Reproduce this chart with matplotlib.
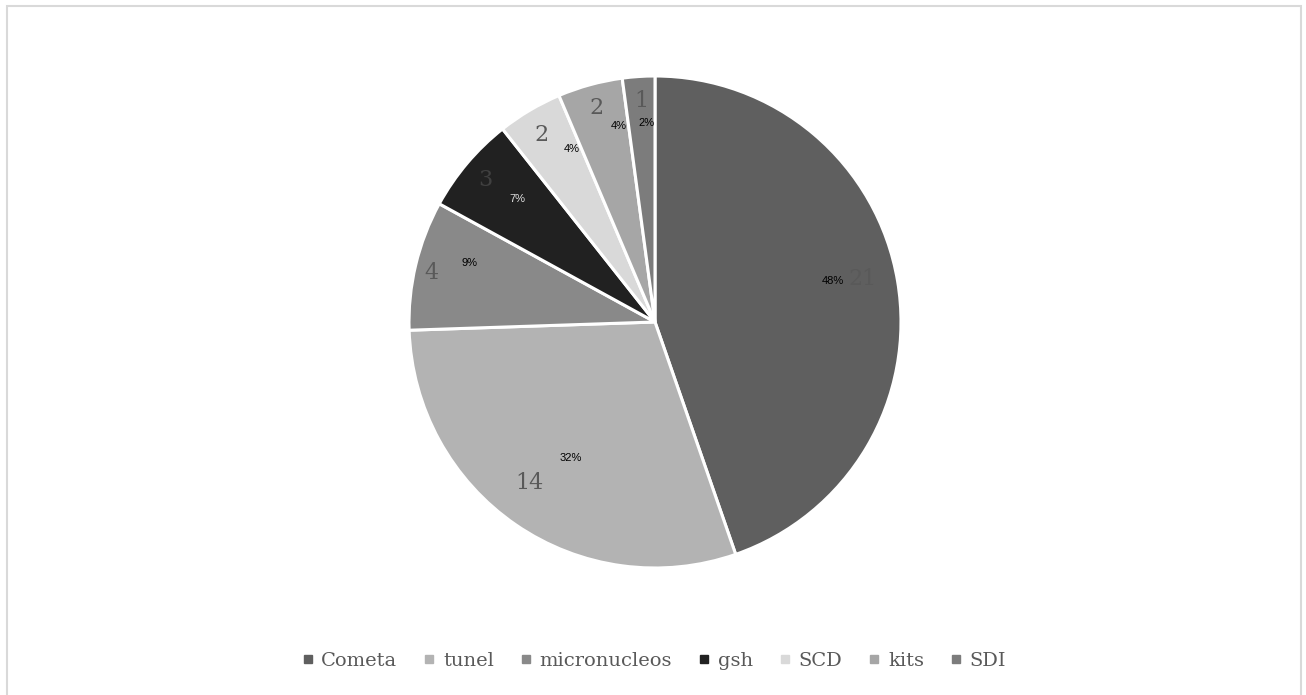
import numpy as np
import matplotlib
matplotlib.use("Agg")
import matplotlib.pyplot as plt
from matplotlib.patches import Rectangle
from matplotlib.lines import Line2D

## Data
categories = ["Cometa", "tunel", "micronucleos", "gsh", "SCD", "kits", "SDI"]
counts = [21, 14, 4, 3, 2, 2, 1]
pct_labels = ["48%", "32%", "9%", "7%", "4%", "4%", "2%"]

colors = ["#5f5f5f", "#b3b3b3", "#898989", "#212121", "#d9d9d9", "#a6a6a6", "#7c7c7c"]
num_colors = ["#595959", "#595959", "#595959", "#404040", "#595959", "#595959", "#595959"]
pct_colors = ["black", "black", "black", "#e0e0e0", "black", "black", "black"]
# label placement: fraction of radius and angle offset (deg, ccw) from slice middle
num_r = [0.86, 0.83, 0.93, 0.90, 0.89, 0.90, 0.90]
num_da = [2.1, -3.4, 1.0, 0.3, 0.5, -0.1, -0.2]
pct_r = [0.74, 0.65, 0.79, 0.75, 0.78, 0.81, 0.81]
pct_da = [3.4, 2.7, -4.3, -1.7, -4.8, -4.7, -1.5]

W, H = 1306, 695
fig = plt.figure(figsize=(W / 100, H / 100), dpi=100)

# outer frame
fig.patches.append(Rectangle((7 / W, -0.02), (1301 - 7) / W, 1.02 - 6 / H,
                             transform=fig.transFigure, fill=False,
                             edgecolor="#d9d9d9", linewidth=1.5))

cx, cy, R = 655, 322, 246
ax = fig.add_axes([(cx - R) / W, (H - cy - R) / H, 2 * R / W, 2 * R / H])
ax.pie(counts, colors=colors, startangle=90, counterclock=False, radius=1,
       wedgeprops=dict(edgecolor="white", linewidth=2.2))
ax.set_xlim(-1, 1)
ax.set_ylim(-1, 1)
ax.set_aspect("equal")
ax.axis("off")

total = sum(counts)
start = 90.0
for i, v in enumerate(counts):
    span = 360.0 * v / total
    mid = start - span / 2
    start -= span
    a = np.deg2rad(mid + num_da[i])
    ax.text(num_r[i] * np.cos(a), num_r[i] * np.sin(a), str(v),
            ha="center", va="center", fontsize=16, color=num_colors[i],
            family="DejaVu Serif")
    a = np.deg2rad(mid + pct_da[i])
    ax.text(pct_r[i] * np.cos(a), pct_r[i] * np.sin(a), pct_labels[i],
            ha="center", va="center", fontsize=8, color=pct_colors[i],
            family="Liberation Sans")

handles = [Line2D([], [], marker="s", linestyle="", markersize=6,
                  markerfacecolor=c, markeredgecolor=c) for c in colors]
fig.legend(handles, categories, loc="center", bbox_to_anchor=(0.5, (H - 661) / H),
           ncol=len(categories), frameon=False, handletextpad=0.3,
           columnspacing=1.25, handlelength=0.8,
           prop=dict(family="DejaVu Serif", size=14), labelcolor="#595959")

fig.savefig("out.png", dpi=100, facecolor="white")
